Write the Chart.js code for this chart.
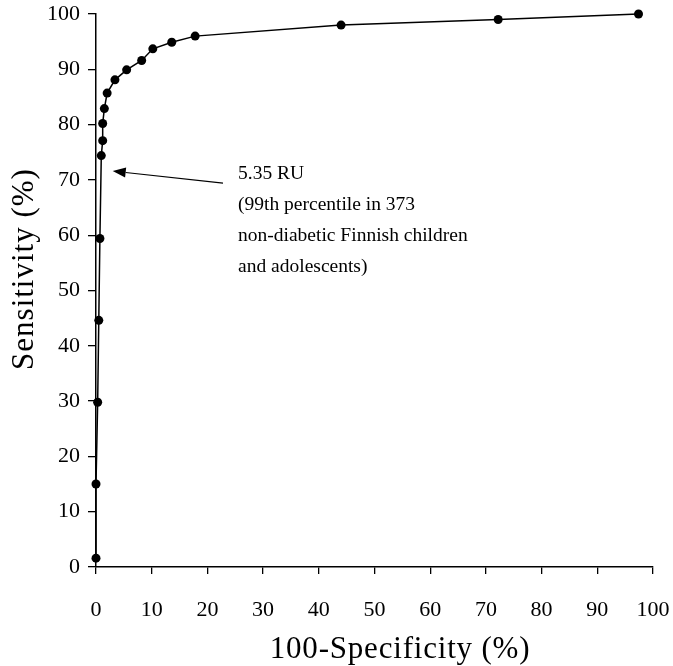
<!DOCTYPE html>
<html>
<head>
<meta charset="utf-8">
<script src="https://cdn.jsdelivr.net/npm/chart.js@4"></script>
<style>
  html, body { margin: 0; padding: 0; background: #fff; }
  #wrap { width: 673px; height: 666px; }
</style>
</head>
<body>
<div id="wrap"><canvas id="c" width="673" height="666"></canvas></div>
<script>
// ROC curve: 100-specificity (%) vs sensitivity (%)
const fpr = [0, 0, 0.3, 0.5, 0.7, 0.95, 1.2, 1.2, 1.5, 2.0, 3.4, 5.5, 8.2, 10.2, 13.6, 17.8, 44.0, 72.2, 97.4];
const sens = [1.6, 15.0, 29.8, 44.6, 59.4, 74.4, 77.1, 80.2, 82.9, 85.7, 88.1, 89.9, 91.6, 93.7, 94.9, 96.0, 98.0, 99.0, 100];

const xTitle = '100-Specificity (%)';
const yTitle = 'Sensitivity (%)';

// annotation for the 5.35 RU cut-off
const noteLines = ['5.35 RU', '(99th percentile in 373', 'non-diabetic Finnish children', 'and adolescents)'];
const noteAt = {x: 25.5, y: 71.0};
const arrowFrom = {x: 22.8, y: 69.4};
const arrowTo = {x: 3.0, y: 71.6};

const FONT = '"Liberation Serif", "Times New Roman", serif';

const extras = {
  id: 'extras',
  afterDraw(chart) {
    const ctx = chart.ctx;
    const xs = chart.scales.x, ys = chart.scales.y;
    ctx.save();
    ctx.fillStyle = '#000';
    ctx.strokeStyle = '#000';

    // arrow
    const x1 = xs.getPixelForValue(arrowFrom.x), y1 = ys.getPixelForValue(arrowFrom.y);
    const x2 = xs.getPixelForValue(arrowTo.x), y2 = ys.getPixelForValue(arrowTo.y);
    const ang = Math.atan2(y2 - y1, x2 - x1);
    const hl = 13, hw = 5;
    const bx = x2 - hl * Math.cos(ang), by = y2 - hl * Math.sin(ang);
    ctx.lineWidth = 1.2;
    ctx.beginPath();
    ctx.moveTo(x1, y1);
    ctx.lineTo(bx, by);
    ctx.stroke();
    ctx.beginPath();
    ctx.moveTo(x2, y2);
    ctx.lineTo(bx + hw * Math.sin(ang), by - hw * Math.cos(ang));
    ctx.lineTo(bx - hw * Math.sin(ang), by + hw * Math.cos(ang));
    ctx.closePath();
    ctx.fill();

    // note text
    ctx.font = '19.5px ' + FONT;
    ctx.textAlign = 'left';
    ctx.textBaseline = 'middle';
    const tx = xs.getPixelForValue(noteAt.x), ty = ys.getPixelForValue(noteAt.y);
    noteLines.forEach((s, i) => ctx.fillText(s, tx, ty + i * 31));

    // axis titles
    ctx.font = '31px ' + FONT;
    ctx.textBaseline = 'alphabetic';
    ctx.textAlign = 'center';
    ctx.letterSpacing = '0.8px';
    ctx.fillText(xTitle, 400, 658);
    ctx.letterSpacing = '1px';
    ctx.translate(33, 269);
    ctx.rotate(-Math.PI / 2);
    ctx.fillText(yTitle, 0, 0);
    ctx.restore();
  }
};

// let layout.padding alone place the plot area
function noOverflow(s) {
  s.paddingLeft = 0; s.paddingRight = 0; s.paddingTop = 0; s.paddingBottom = 0;
}

const axisCommon = {
  type: 'linear',
  min: 0,
  max: 100,
  grid: {drawOnChartArea: false, drawTicks: true, color: '#000', lineWidth: 1.3},
  border: {color: '#000', width: 1.5},
};

new Chart(document.getElementById('c'), {
  type: 'scatter',
  data: {
    datasets: [{
      data: fpr.map((x, i) => ({x: x, y: sens[i]})),
      showLine: true,
      borderColor: '#000',
      backgroundColor: '#000',
      borderWidth: 1.5,
      pointRadius: 4.5,
      pointHoverRadius: 4.5,
      pointBorderWidth: 0,
      tension: 0,
      clip: false
    }]
  },
  options: {
    responsive: false,
    animation: false,
    layout: {padding: {top: 14, right: 20, left: 0, bottom: 0}},
    plugins: {legend: {display: false}, tooltip: {enabled: false}},
    scales: {
      x: Object.assign({}, axisCommon, {
        grid: Object.assign({}, axisCommon.grid, {tickLength: 7}),
        ticks: {stepSize: 10, color: '#000', padding: 23, maxRotation: 0,
                font: {family: FONT, size: 22}},
        afterFit(s) { s.height = 99; noOverflow(s); }
      }),
      y: Object.assign({}, axisCommon, {
        grid: Object.assign({}, axisCommon.grid, {tickLength: 8}),
        ticks: {stepSize: 10, color: '#000', padding: 8,
                font: {family: FONT, size: 22}},
        afterFit(s) { s.width = 96; noOverflow(s); }
      })
    }
  },
  plugins: [extras]
});
</script>
</body>
</html>
